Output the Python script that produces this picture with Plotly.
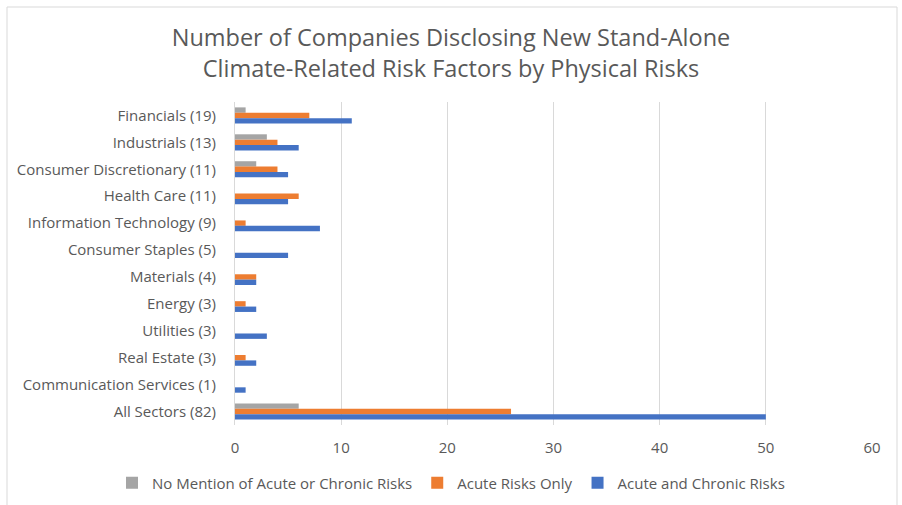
import plotly.graph_objects as go

categories = ["Financials (19)", "Industrials (13)", "Consumer Discretionary (11)", "Health Care (11)",
              "Information Technology (9)", "Consumer Staples (5)", "Materials (4)", "Energy (3)",
              "Utilities (3)", "Real Estate (3)", "Communication Services (1)", "All Sectors (82)"]
no_mention = [1, 3, 2, 0, 0, 0, 0, 0, 0, 0, 0, 6]
acute_only = [7, 4, 4, 6, 1, 0, 2, 1, 0, 1, 0, 26]
acute_chronic = [11, 6, 5, 5, 8, 5, 2, 2, 3, 2, 1, 50]
series_names = ["No Mention of Acute or Chronic Risks", "Acute Risks Only", "Acute and Chronic Risks"]
colors = ["#A5A5A5", "#ED7D31", "#4472C4"]
x_ticks = [0, 10, 20, 30, 40, 50, 60]

fig = go.Figure()
for name, vals, c in zip(series_names, [no_mention, acute_only, acute_chronic], colors):
    fig.add_trace(go.Bar(y=categories, x=vals, name=name, orientation="h",
                         marker=dict(color=c, line=dict(width=0))))

L, R, T, B = 235, 30, 102, 80
W, H = 902, 505
pw, ph = W - L - R, H - T - B

fig.update_layout(
    width=W, height=H,
    margin=dict(l=L, r=R, t=T, b=B, autoexpand=False),
    paper_bgcolor="white", plot_bgcolor="white",
    font=dict(family="Open Sans", color="#595959", size=15),
    title=dict(text="Number of Companies Disclosing New Stand-Alone<br>Climate-Related Risk Factors by Physical Risks",
               x=0.5, xref="container", xanchor="center", y=1 - 46 / H, yref="container", yanchor="middle",
               font=dict(size=23.5, color="#595959", family="Open Sans")),
    barmode="group", bargap=0.4, bargroupgap=0,
    xaxis=dict(range=[0, 60], tickvals=x_ticks, showgrid=True, gridcolor="#D9D9D9", gridwidth=1,
               zeroline=False, showline=False, ticks="", tickfont=dict(size=15, color="#595959"),
               ticklabelstandoff=12, automargin=False),
    yaxis=dict(autorange="reversed", showgrid=False, showline=True, linecolor="#D9D9D9",
               ticks="", ticklabelstandoff=15, tickfont=dict(size=15, color="#595959"), automargin=False),
    legend=dict(orientation="h", x=(112 - L) / pw, xanchor="left", xref="paper",
                y=(H - B - 483) / ph, yref="paper", yanchor="middle",
                font=dict(size=15, color="#595959"), traceorder="normal"),
    showlegend=True,
)
# outer chart border
fig.add_shape(type="rect", xref="paper", yref="paper",
              x0=(7 - L) / pw, x1=(897 - L) / pw, y0=(H - B - 520) / ph, y1=(H - B - 7) / ph,
              line=dict(color="#D9D9D9", width=1), fillcolor="rgba(0,0,0,0)", layer="below")

fig.write_html("out.html")
